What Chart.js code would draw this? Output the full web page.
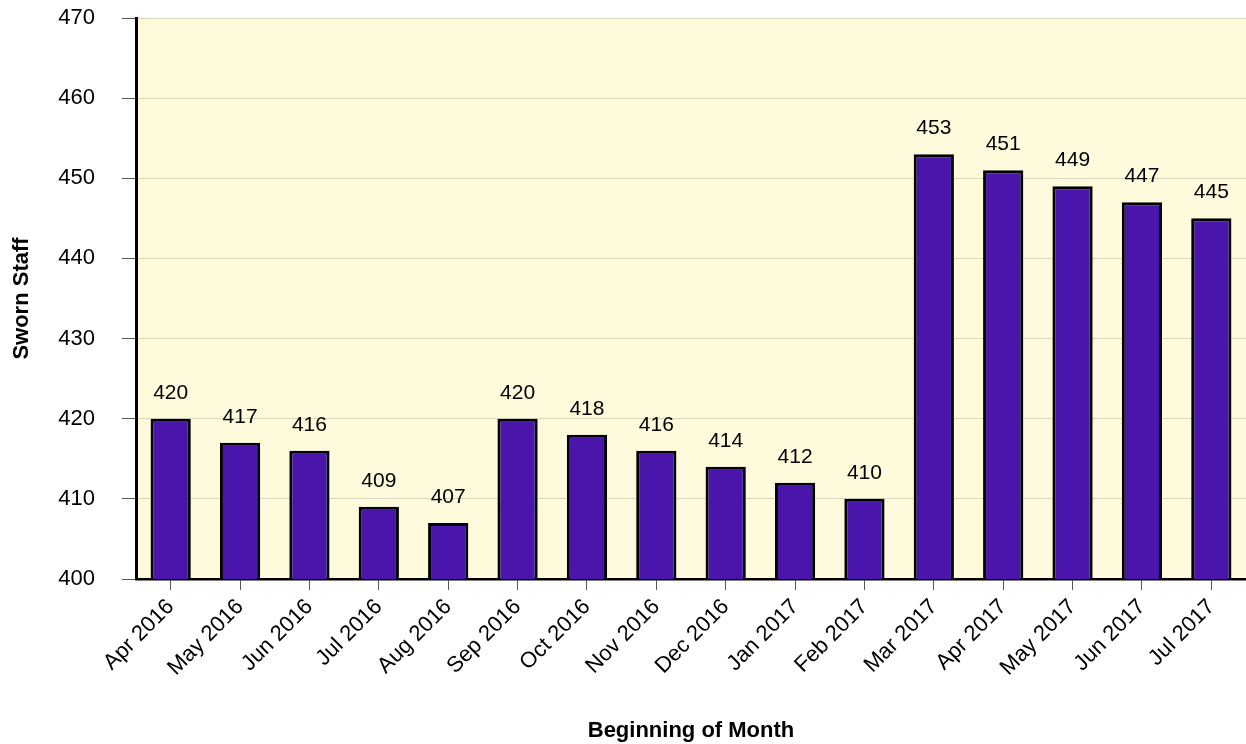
<!DOCTYPE html>
<html>
<head>
<meta charset="utf-8">
<script src="https://cdn.jsdelivr.net/npm/chart.js@4/dist/chart.umd.min.js"></script>
<style>
html,body{margin:0;padding:0;background:#fff;}
#wrap{width:1246px;height:744px;position:relative;}
</style>
</head>
<body>
<div id="wrap"><canvas id="c" width="1246" height="744"></canvas></div>
<script>
const categories = ["Apr 2016","May 2016","Jun 2016","Jul 2016","Aug 2016","Sep 2016","Oct 2016","Nov 2016","Dec 2016","Jan 2017","Feb 2017","Mar 2017","Apr 2017","May 2017","Jun 2017","Jul 2017"];
const swornStaff = [420,417,416,409,407,420,418,416,414,412,410,453,451,449,447,445];
const yTicks = [400,410,420,430,440,450,460,470];
const yTitle = "Sworn Staff";
const xTitle = "Beginning of Month";

const FONT = "'Liberation Sans', Arial, sans-serif";

const bgPlugin = {
  id: 'bg',
  beforeDraw(chart) {
    const {ctx, chartArea: a} = chart;
    ctx.save();
    ctx.fillStyle = '#fffadc';
    ctx.fillRect(a.left, a.top, a.right - a.left, a.bottom - a.top);
    ctx.restore();
  }
};

const labelPlugin = {
  id: 'vals',
  afterDatasetsDraw(chart) {
    const {ctx} = chart;
    const meta = chart.getDatasetMeta(0);
    ctx.save();
    ctx.font = "21px " + FONT;
    ctx.fillStyle = '#000';
    ctx.textAlign = 'center';
    ctx.textBaseline = 'alphabetic';
    meta.data.forEach((bar, i) => {
      ctx.fillText(String(swornStaff[i]), bar.x, bar.y - 20);
    });
    ctx.restore();
  }
};

new Chart(document.getElementById('c'), {
  type: 'bar',
  data: {
    labels: categories,
    datasets: [{
      data: swornStaff,
      backgroundColor: '#4a15ab',
      borderColor: '#000',
      borderWidth: 3,
      borderSkipped: false,
      barPercentage: 0.58,
      categoryPercentage: 1.0
    }]
  },
  options: {
    responsive: false,
    animation: false,
    layout: {padding: {top: 18, right: 0, left: 0, bottom: 0}},
    plugins: {legend: {display: false}, tooltip: {enabled: false}},
    scales: {
      x: {
        offset: true,
        border: {display: true, color: '#000', width: 2.5},
        grid: {display: true, drawOnChartArea: false, offset: false, tickLength: 11, tickColor: '#555', tickWidth: 1},
        ticks: {color: '#000', font: {family: FONT, size: 22}, minRotation: 45, maxRotation: 45, padding: 4, autoSkip: false},
        title: {display: true, text: xTitle, color: '#000', font: {family: FONT, size: 22, weight: 'bold'}, padding: {top: 0, bottom: 0}},
        afterFit(scale) { scale.height = 165; scale.paddingLeft = 0; scale.paddingRight = 0; }
      },
      y: {
        min: 400, max: 470,
        afterBuildTicks(scale) { scale.ticks = yTicks.map(v => ({value: v})); },
        border: {display: true, color: '#000', width: 3},
        grid: {color: '#d9d6bc', lineWidth: 1, tickLength: 14, tickColor: '#555', tickWidth: 1},
        ticks: {color: '#000', font: {family: FONT, size: 22}, padding: 27},
        title: {display: true, text: yTitle, color: '#000', font: {family: FONT, size: 22, weight: 'bold'}, padding: {top: 9, bottom: 0}},
        afterFit(scale) { scale.width = 136; scale.paddingTop = 0; scale.paddingBottom = 0; }
      }
    }
  },
  plugins: [bgPlugin, labelPlugin]
});
</script>
</body>
</html>
